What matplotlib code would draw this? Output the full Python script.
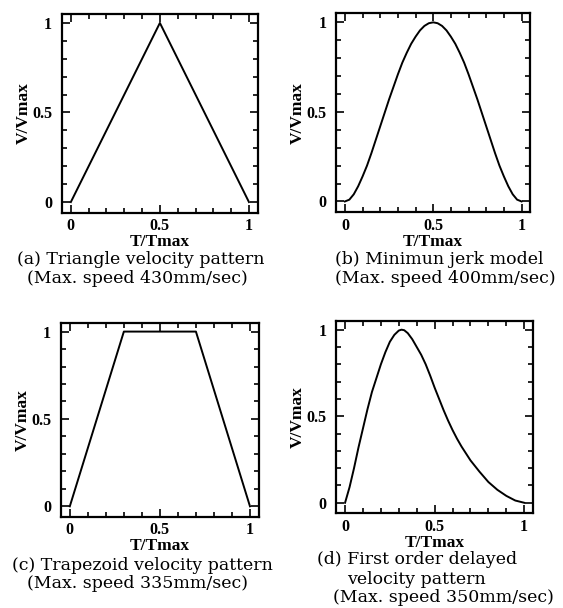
import matplotlib
matplotlib.use('Agg')
import matplotlib.pyplot as plt
from matplotlib.ticker import MultipleLocator

# (a) triangle pattern
tri_t = [0.0, 0.5, 1.0]
tri_v = [0.0, 1.0, 0.0]

# (b) minimum jerk model
jerk_t = [0.0, 0.025, 0.05, 0.075, 0.1, 0.125, 0.15, 0.175, 0.2, 0.225, 0.25, 0.275, 0.3, 0.325,
          0.35, 0.375, 0.4, 0.425, 0.45, 0.475, 0.5, 0.525, 0.55, 0.575, 0.6, 0.625, 0.65, 0.675,
          0.7, 0.725, 0.75, 0.775, 0.8, 0.825, 0.85, 0.875, 0.9, 0.925, 0.95, 0.975, 1.0]
jerk_v = [0.0, 0.01, 0.04, 0.085, 0.14, 0.2, 0.27, 0.345, 0.42, 0.495, 0.57, 0.64, 0.71, 0.775,
          0.83, 0.88, 0.92, 0.955, 0.98, 0.995, 1.0, 0.995, 0.98, 0.955, 0.92, 0.88, 0.83, 0.775,
          0.71, 0.64, 0.57, 0.495, 0.42, 0.345, 0.27, 0.2, 0.14, 0.085, 0.04, 0.01, 0.0]

# (c) trapezoid pattern
trap_t = [0.0, 0.3, 0.7, 1.0]
trap_v = [0.0, 1.0, 1.0, 0.0]

# (d) first order delayed pattern
delay_t = [0.0, 0.025, 0.05, 0.075, 0.1, 0.125, 0.15, 0.175, 0.2, 0.225, 0.25, 0.275, 0.3, 0.315,
           0.33, 0.35, 0.375, 0.4, 0.425, 0.45, 0.475, 0.5, 0.525, 0.55, 0.575, 0.6, 0.625, 0.65,
           0.7, 0.75, 0.8, 0.85, 0.9, 0.95, 1.0]
delay_v = [0.0, 0.09, 0.2, 0.32, 0.43, 0.54, 0.64, 0.72, 0.8, 0.87, 0.93, 0.97, 0.995, 1.0,
           0.997, 0.98, 0.945, 0.9, 0.855, 0.8, 0.735, 0.665, 0.6, 0.535, 0.475, 0.42, 0.37, 0.325,
           0.245, 0.18, 0.12, 0.075, 0.04, 0.013, 0.0]

captions = [
    ['(a) Triangle velocity pattern', '(Max. speed 430mm/sec)'],
    ['(b) Minimun jerk model', '(Max. speed 400mm/sec)'],
    ['(c) Trapezoid velocity pattern', '(Max. speed 335mm/sec)'],
    ['(d) First order delayed', 'velocity pattern', '(Max. speed 350mm/sec)'],
]

plt.rcParams['font.family'] = ['Liberation Serif', 'DejaVu Serif']

fig = plt.figure(figsize=(5.63, 6.08), dpi=100)

boxes = [
    [0.110, 0.650, 0.348, 0.327],
    [0.597, 0.651, 0.345, 0.327],
    [0.108, 0.150, 0.352, 0.319],
    [0.597, 0.156, 0.350, 0.316],
]
series = [(tri_t, tri_v), (jerk_t, jerk_v), (trap_t, trap_v), (delay_t, delay_v)]

for box, (t, v) in zip(boxes, series):
    ax = fig.add_axes(box)
    ax.plot(t, v, color='black', linewidth=1.4)
    ax.set_xlim(-0.05, 1.05)
    ax.set_ylim(-0.06, 1.05)
    ax.set_xticks([0, 0.5, 1])
    ax.set_xticklabels(['0', '0.5', '1'])
    ax.set_yticks([0, 0.5, 1])
    ax.set_yticklabels(['0', '0.5', '1'])
    ax.xaxis.set_minor_locator(MultipleLocator(0.1))
    ax.yaxis.set_minor_locator(MultipleLocator(0.1))
    ax.tick_params(which='both', direction='in', top=True, right=True, width=1.2)
    ax.tick_params(which='major', length=6, labelsize=11.5)
    ax.tick_params(axis='x', which='major', pad=4)
    ax.tick_params(axis='y', which='major', pad=7)
    ax.tick_params(which='minor', length=3.5)
    for lab in ax.get_xticklabels() + ax.get_yticklabels():
        lab.set_fontweight('bold')
    for sp in ax.spines.values():
        sp.set_linewidth(1.6)
    ax.set_xlabel('T/Tmax', fontsize=12.5, fontweight='bold', labelpad=0)
    ax.set_ylabel('V/Vmax', fontsize=12.5, fontweight='bold', labelpad=0)

# captions under each panel: (left x, centre y) in pixels per line
cap_pos = [
    [(17, 260), (27, 279)],
    [(335, 260), (335, 279)],
    [(12, 565), (27, 584)],
    [(317, 560), (347, 579), (333, 598)],
]
for pos, lines in zip(cap_pos, captions):
    for (x, y), line in zip(pos, lines):
        fig.text(x / 563, 1 - y / 608, line, ha='left', va='center', fontsize=12.5,
                 family='DejaVu Serif')

fig.savefig('out.png', dpi=100)
